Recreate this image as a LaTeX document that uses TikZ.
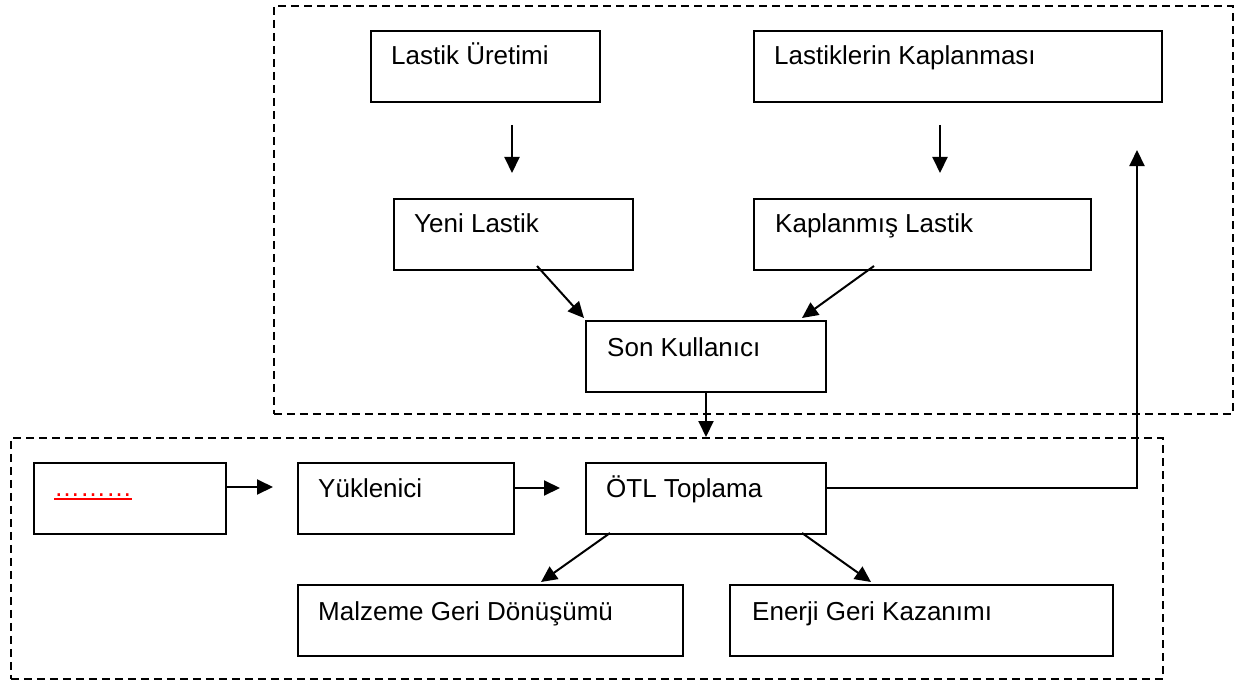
\documentclass[tikz,border=0pt]{standalone}
\usepackage{fontspec}
\setmainfont{Liberation Sans}
\usetikzlibrary{arrows.meta,calc}
\begin{document}
\begin{tikzpicture}[x=1pt,y=-1pt,
  box/.style={draw,line width=2pt,inner sep=0pt,anchor=north west,minimum height=71pt},
  txt/.style={anchor=base west,inner sep=0pt,font=\fontsize{26}{30}\selectfont},
  grp/.style={draw,line width=1.8pt,dash pattern=on 8pt off 5pt,inner sep=0pt,anchor=north west},
  arr/.style={-{Triangle[length=16pt,width=15pt]},line width=2pt}]
\useasboundingbox (0,0) rectangle (1234,682);
% groups
\node[grp,minimum width=959pt,minimum height=408pt] (g1) at (273,5) {};
\node[grp,minimum width=1152pt,minimum height=241pt] (g2) at (10,437) {};
% boxes
\node[box,minimum width=229pt] (b1) at (370,30) {};
\node[box,minimum width=408pt] (b2) at (753,30) {};
\node[box,minimum width=239pt] (b3) at (393,198) {};
\node[box,minimum width=337pt] (b4) at (753,198) {};
\node[box,minimum width=240pt] (b5) at (585,320) {};
\node[box,minimum width=192pt] (b6) at (33,462) {};
\node[box,minimum width=216pt] (b7) at (297,462) {};
\node[box,minimum width=240pt] (b8) at (585,462) {};
\node[box,minimum width=385pt] (b9) at (297,584) {};
\node[box,minimum width=383pt] (b10) at (729,584) {};
% texts
\node[txt] (t1) at ($(b1.north west)+(21,35)$) {Lastik Üretimi};
\node[txt] (t2) at ($(b2.north west)+(21,35)$) {Lastiklerin Kaplanması};
\node[txt] (t3) at ($(b3.north west)+(21,34)$) {Yeni Lastik};
\node[txt] (t4) at ($(b4.north west)+(22,34)$) {Kaplanmış Lastik};
\node[txt] (t5) at ($(b5.north west)+(22,36)$) {Son Kullanıcı};
\node[txt,text=red] (t6) at ($(b6.north west)+(21,34)$) {………};
\draw[red,line width=2pt] ($(t6.base west)+(0,3)$) -- ($(t6.base east)+(0,3)$);
\node[txt] (t7) at ($(b7.north west)+(21,35)$) {Yüklenici};
\node[txt] (t8) at ($(b8.north west)+(21,35)$) {ÖTL Toplama};
\node[txt] (t9) at ($(b9.north west)+(21,36)$) {Malzeme Geri Dönüşümü};
\node[txt] (t10) at ($(b10.north west)+(23,36)$) {Enerji Geri Kazanımı};
% arrow end points
\coordinate (a1s) at (512,125); \coordinate (a1e) at (512,173);
\coordinate (a2s) at (940,125); \coordinate (a2e) at (940,173);
\coordinate (a3s) at (537,266); \coordinate (a3e) at (584,318);
\coordinate (a4s) at (874,266); \coordinate (a4e) at (802,318);
\coordinate (a5s) at (706,392); \coordinate (a5e) at (706,437);
\coordinate (a6s) at (225,487); \coordinate (a6e) at (273,487);
\coordinate (a7s) at (513,488); \coordinate (a7e) at (560,488);
\coordinate (a8s) at (825,488); \coordinate (a8e) at (1137,150);
\coordinate (a9s) at (610,533); \coordinate (a9e) at (541,582);
\coordinate (a10s) at (802,533); \coordinate (a10e) at (871,582);
\draw[arr] (a1s) -- (a1e);
\draw[arr] (a2s) -- (a2e);
\draw[arr] (a3s) -- (a3e);
\draw[arr] (a4s) -- (a4e);
\draw[arr] (a5s) -- (a5e);
\draw[arr] (a6s) -- (a6e);
\draw[arr] (a7s) -- (a7e);
\draw[arr] (a8s) -| (a8e);
\draw[arr] (a9s) -- (a9e);
\draw[arr] (a10s) -- (a10e);
\end{tikzpicture}
\end{document}
